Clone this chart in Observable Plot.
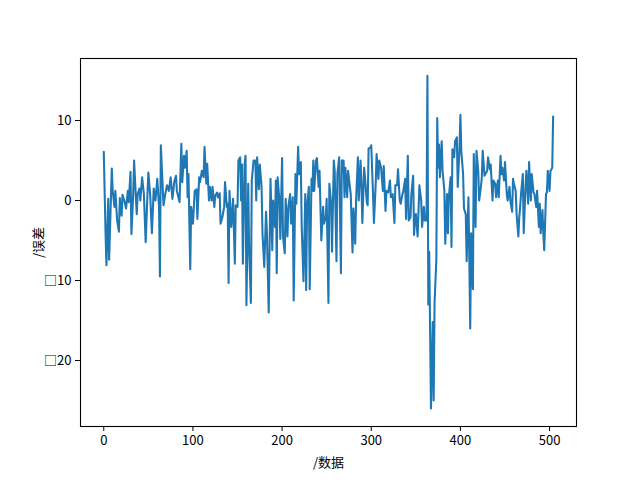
<!DOCTYPE html>
<html>
<head>
<meta charset="utf-8">
<script src="https://cdn.jsdelivr.net/npm/d3@7"></script>
<script src="https://cdn.jsdelivr.net/npm/@observablehq/plot@0.6"></script>
<style>
  html, body { margin: 0; padding: 0; background: white; }
</style>
</head>
<body>
<div id="chart"></div>
<script>
// sample index (数据)
const idx = [
  0,2,3,5,6,9,10,12,13,15,17,18,20,21,23,25,27,28,30,31,33,34,36,37,38,40,41,43,45,47,49,50,52,54,56,58,60,62,63,64,67,69,71,73,75,77,79,
  81,82,85,87,88,90,91,93,94,95,97,98,100,102,104,105,107,108,110,112,113,115,116,118,119,121,122,124,125,127,128,130,131,133,135,136,138,139,140,141,143,144,145,147,148,150,151,153,154,155,156,158,159,160,161,162,163,165,166,168,
  170,171,172,174,175,177,178,180,182,183,185,187,189,190,192,193,194,195,197,198,200,201,203,204,206,207,209,210,212,213,215,216,218,219,221,222,224,226,227,228,230,231,233,234,235,236,238,239,241,242,244,246,247,249,250,252,253,255,256,258,
  259,261,262,264,266,267,269,270,271,273,274,276,277,279,280,282,283,285,286,288,289,290,292,293,295,296,297,299,300,302,303,305,306,308,309,311,313,314,316,317,319,321,322,324,326,327,329,330,332,333,335,336,338,339,341,342,344,345,347,348,
  349,350,352,354,356,357,359,360,362,363,364,365,367,369,370,371,373,374,375,376,377,379,380,382,383,385,386,387,389,390,391,393,394,396,397,399,400,401,403,404,406,407,409,410,411,412,414,415,417,418,420,421,423,424,425,427,428,430,431,433,434,436,437,
  439,440,442,443,445,446,447,449,450,452,453,455,456,458,459,460,462,463,465,466,467,468,470,471,473,474,476,477,479,480,482,483,485,486,488,489,490,492,493,494,496,497,498,500,501,503,504
];
// error values (误差)
const err = [
  6.1,-4.1,-8.1,0.2,-7.4,4.0,1.2,-0.8,1.2,-2.5,-3.9,0.3,-1.9,0.7,0,-1.0,1.2,-0.2,3.6,-4.2,0.8,5.0,0.4,-1.7,0.8,1.5,0,2.9,0.8,-5.2,0.8,3.5,0.8,-4.1,1.5,0,2.7,-0.8,-9.5,6.9,-0.6,0.8,1.9,1.2,2.9,0.2,2.3,
  3.1,1.2,-0.2,7.1,2.3,5.6,4.1,6.2,0.4,3.3,-8.6,-0.8,-2.9,1.2,1.4,-2.3,2.9,2.3,3.7,2.9,6.7,2.1,4.6,0,1.7,0,1.7,-0.8,0.6,1.0,0.4,0.9,-2.9,-2.1,-0.8,2.3,-0.8,-0.4,-10.3,1.2,-3.3,-1.7,0.2,-7.9,-0.6,-0.8,5.0,5.4,0,4.5,-7.9,4.5,5.6,-13.1,-5.8,2.1,-5.8,-12.8,2.5,5.0,
  5.0,0,5.4,1.4,4.5,1.7,-4.1,-8.3,-1.4,-4.1,-14.0,2.7,-6.2,0,-3.3,2.5,-9.1,2.9,0,-4.8,5.3,-4.5,-6.6,0.2,-4.5,-0.8,0.8,-2.9,0.4,-12.5,3.3,-0.4,6.7,3.3,4.8,-3.3,-10.1,0.8,-11.2,-0.8,1.7,-11.1,2.7,1.2,5.0,1.2,5.0,5.3,1.7,3.7,-5.0,-0.8,-2.9,-2.1,0.2,-12.8,2.1,-0.4,-6.4,5.0,
  3.7,-7.6,3.3,5.4,-9.1,5.0,5.0,0.4,4.1,0.4,3.7,1.7,0.8,-6.5,-1.0,-5.4,0,5.4,0,5.0,2.1,-2.8,4.1,2.9,-0.2,-0.6,6.5,6.6,6.9,0.8,-2.8,2.1,5.8,2.7,5.0,4.1,1.2,4.3,-1.3,1.2,1.0,2.5,0.4,0.8,-2.8,1.9,1.9,3.9,0,-0.4,0.8,1.2,2.7,-2.3,5.6,-2.5,-2.1,0.8,3.1,-4.3,
  -2.3,-1.7,-4.5,1.9,0,-3.3,-0.8,-2.5,-2.5,15.6,-13,-6.4,-26.0,-15.2,-25.0,-12.8,-7.4,10.3,4.1,7.0,2.9,7.4,3.7,1.2,-5.4,0.8,-4.1,0.4,2.9,-5.8,6.4,5.4,7.4,7.9,1.7,6.6,10.7,6.2,3.3,-1.0,-1.7,-7.6,0.4,-7.4,-16.0,-4.1,-11.1,5.8,-3.3,6.2,3.7,0,1.7,2.9,6.2,3.1,3.3,3.7,5.4,3.9,4.5,0,2.5,
  2.1,0.4,2.5,0.4,5.6,3.3,4.1,2.5,4.8,0.8,0,1.7,0,-1.4,2.7,2.1,1.2,-1.7,-4.5,-2.1,-0.8,0.8,3.3,-4.1,1.7,3.7,-0.4,4.8,0,3.3,1.0,0.8,-0.8,1.2,-3.3,-0.4,-4.1,-1.2,-4.1,-6.2,0.8,1.0,3.7,1.2,3.7,4.1,10.5
];
const xTicks = [0, 100, 200, 300, 400, 500];
const yTicks = [-20, -10, 0, 10];

const data = idx.map((x, i) => ({x, y: err[i]}));

const chart = Plot.plot({
  width: 640,
  height: 480,
  marginLeft: 80,
  marginRight: 64,
  marginTop: 58,
  marginBottom: 54,
  style: {
    fontFamily: "'Noto Sans CJK SC', 'DejaVu Sans', sans-serif",
    fontSize: "13px",
    background: "white",
    color: "black"
  },
  x: {
    domain: [-26.1, 530.2],
    ticks: xTicks,
    tickSize: 5,
    tickPadding: 4,
    label: "/数据",
    labelAnchor: "center",
    labelArrow: "none",
    labelOffset: 40
  },
  y: {
    domain: [-28.25, 17.75],
    ticks: yTicks,
    tickSize: 5,
    tickPadding: 4,
    tickFormat: d => d < 0 ? "□" + Math.abs(d) : String(d),
    label: "/误差",
    labelAnchor: "center",
    labelArrow: "none",
    labelOffset: 47
  },
  marks: [
    Plot.line(data, {x: "x", y: "y", stroke: "#1f77b4", strokeWidth: 2.08, strokeLinejoin: "round"}),
    Plot.frame({stroke: "black", strokeWidth: 1.1})
  ]
});
document.getElementById("chart").appendChild(chart);
</script>
</body>
</html>
